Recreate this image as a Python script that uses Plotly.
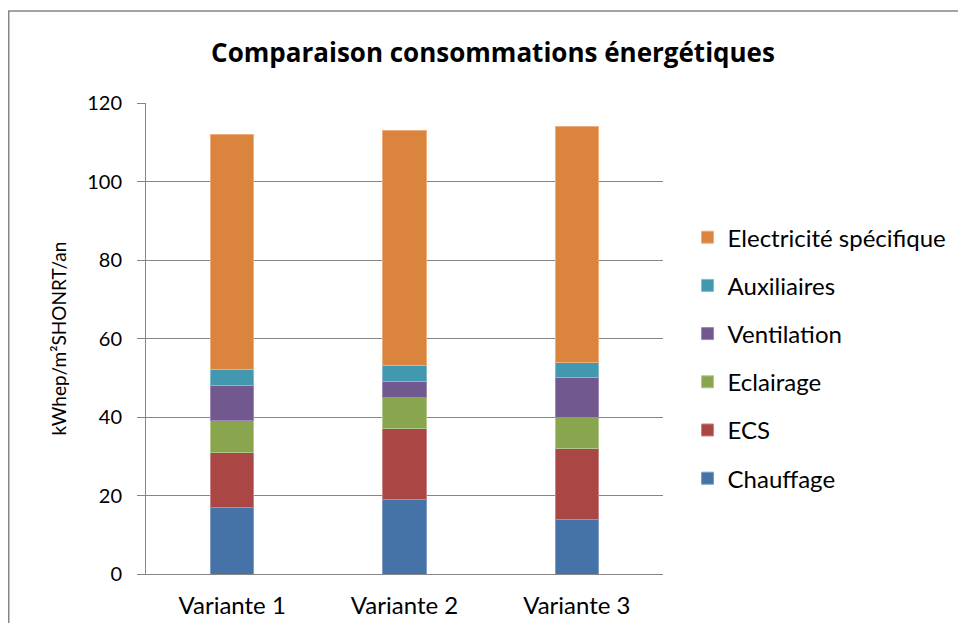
import plotly.graph_objects as go

categories = ["Variante 1", "Variante 2", "Variante 3"]
series_names = ["Chauffage", "ECS", "Eclairage", "Ventilation", "Auxiliaires", "Electricité spécifique"]
chauffage = [17, 19, 14]
ecs = [14, 18, 18]
eclairage = [8, 8, 8]
ventilation = [9, 4, 10]
auxiliaires = [4, 4, 4]
electricite = [60, 60, 60]
series_values = [chauffage, ecs, eclairage, ventilation, auxiliaires, electricite]
colors = ["#4572A7", "#AA4643", "#89A54E", "#71588F", "#4198AF", "#DB843D"]
line_colors = ["#7F9CC6", "#C98583", "#B0C88E", "#9D88B6", "#7FBBCB", "#EDAE80"]
y_ticks = [0, 20, 40, 60, 80, 100, 120]

FONT = "Lato"
# page has an 8px body margin; figure sized to fit the window exactly
W, H = 950, 615
L, T = 138, 95          # plot area origin inside the figure
PW, PH = 517, 471       # plot area size

def px_x(fx):  # figure x pixel -> paper coordinate
    return (fx - L) / PW

def px_y(fy):  # figure y pixel -> paper coordinate
    return (T + PH - fy) / PH

fig = go.Figure()
n = len(series_names)
for i, (name, vals, c, lc) in enumerate(zip(series_names, series_values, colors, line_colors)):
    fig.add_trace(go.Bar(
        x=categories, y=vals, name=name,
        marker=dict(color=c, line=dict(color=lc, width=1)),
        width=0.25, legendgroup=name, legendrank=n - i,
    ))

fig.update_layout(
    barmode="stack",
    width=W, height=H,
    margin=dict(l=L, r=W - L - PW, t=T, b=H - T - PH, pad=0, autoexpand=False),
    paper_bgcolor="white", plot_bgcolor="white",
    font=dict(family=FONT, color="black", size=20),
    title=dict(text="<b>Comparaison consommations énergétiques</b>",
               x=485 / W, xanchor="center", y=1 - 45 / H, yanchor="middle",
               font=dict(family="Open Sans", size=26, color="black")),
    legend=dict(traceorder="grouped", x=1.0475, xanchor="left",
                y=0.762, yanchor="top",
                font=dict(family=FONT, size=24, color="black"),
                tracegroupgap=14, itemwidth=30, bgcolor="rgba(0,0,0,0)"),
    showlegend=True,
)
fig.update_yaxes(range=[0, 120], tickvals=y_ticks, ticktext=[str(v) for v in y_ticks],
                 showgrid=True, gridcolor="#868686", gridwidth=1,
                 showline=True, linecolor="#868686", linewidth=1,
                 ticks="outside", ticklen=8, tickcolor="#868686",
                 zeroline=False, tickfont=dict(family=FONT, size=20),
                 ticklabelstandoff=11, automargin=False)
fig.update_xaxes(showline=True, linecolor="#868686", linewidth=1,
                 ticks="", tickfont=dict(family=FONT, size=24), ticklabelstandoff=10,
                 automargin=False)

fig.add_annotation(text="kWhep/m²SHONRT/an", textangle=-90, xref="paper", yref="paper",
                   x=px_x(50), y=0.5, xanchor="center", yanchor="middle",
                   showarrow=False, font=dict(family=FONT, size=19, color="black"))

# outer chart border
fig.add_shape(type="rect", xref="paper", yref="paper",
              x0=px_x(0.75), x1=px_x(1100),
              y0=px_y(900), y1=px_y(3),
              line=dict(color="#868686", width=1.5), fillcolor="rgba(0,0,0,0)", layer="below")

fig.write_html("out.html")
